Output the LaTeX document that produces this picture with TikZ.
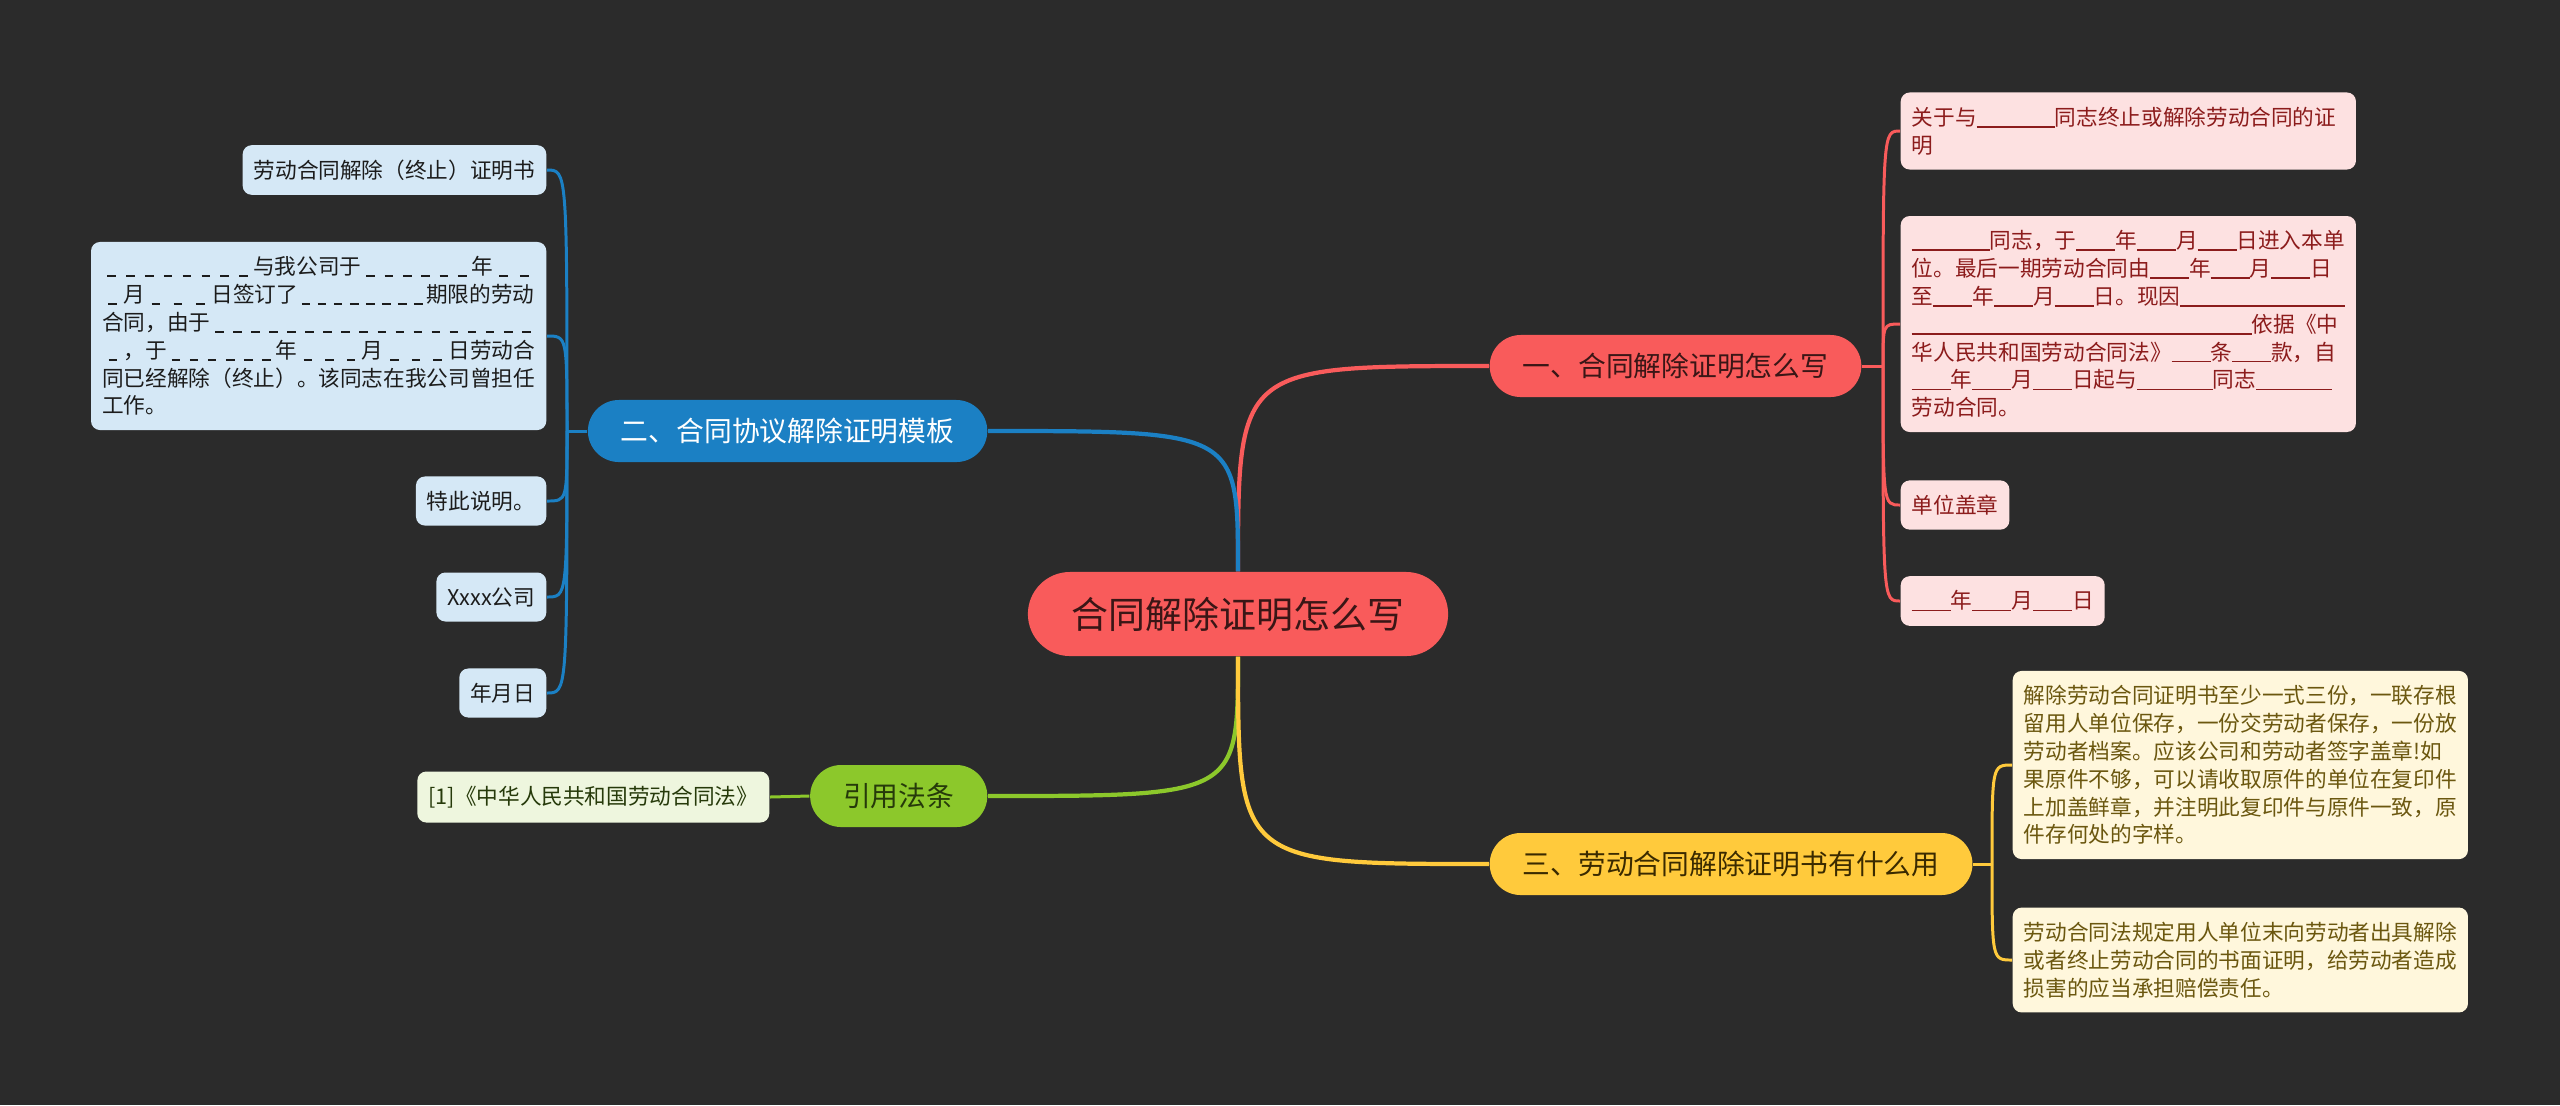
\documentclass[tikz,border=0pt]{standalone}
\usepackage{fontspec}
\setmainfont{Noto Sans CJK SC}
\usetikzlibrary{backgrounds}

\definecolor{canvas}{HTML}{2B2B2B}
\definecolor{rootred}{HTML}{F95B5B}
\definecolor{rootink}{HTML}{3A1616}
\definecolor{redleaf}{HTML}{FDE1E1}
\definecolor{redink}{HTML}{8C1C1C}
\definecolor{bluetop}{HTML}{1B80C4}
\definecolor{blueleaf}{HTML}{D5E8F6}
\definecolor{blueink}{HTML}{1C1C1C}
\definecolor{greentop}{HTML}{8CC82B}
\definecolor{greenink}{HTML}{263A0A}
\definecolor{greenleaf}{HTML}{EEF6DE}
\definecolor{yellowtop}{HTML}{FFCA3C}
\definecolor{yellowink}{HTML}{3A2A00}
\definecolor{yellowleaf}{HTML}{FFF7DC}
\definecolor{yleafink}{HTML}{6B570F}

\newcommand{\rootfont}{\fontsize{10.5pt}{12pt}\selectfont}
\newcommand{\topicfont}{\fontsize{7.9pt}{9.5pt}\selectfont}
\newcommand{\leaffont}{\fontsize{6.16pt}{7.91pt}\selectfont}
% blanks to fill in: solid line, or a run of short dashes
\newcommand{\gapsolid}[1]{\rule[-0.11em]{#1em}{0.08em}}
\newcommand{\gapdashed}[2]{\leavevmode\hbox to #1em{\xleaders\hbox to \dimexpr#1em/#2\relax{\hss\rule[-0.11em]{0.4em}{0.08em}\hss}\hfill}}

\begin{document}
\begin{tikzpicture}[x=0.01cm, y=-0.01cm,
  root/.style={fill=rootred, text=rootink, font=\rootfont,
    minimum width=4.2cm, minimum height=0.84cm, rounded corners=0.42cm},
  topic/.style={font=\topicfont, minimum height=0.62cm, inner xsep=0.33cm,
    rounded corners=0.31cm},
  leaf/.style={font=\leaffont, minimum height=0.49cm, inner xsep=0.11cm,
    inner ysep=0.145cm, rounded corners=0.09cm},
  para/.style={text width=4.33cm, align=left},
  bleaf/.style={leaf, fill=blueleaf, text=blueink},
  rleaf/.style={leaf, fill=redleaf, text=redink},
  yleaf/.style={leaf, fill=yellowleaf, text=yleafink},
  gleaf/.style={leaf, fill=greenleaf, text=greenink},
  trunk/.style={line width=1.2pt},
  twig/.style={line width=0.85pt},
]
\useasboundingbox (0,0) rectangle (2560,1105);

% Root and main topics
\node[root] (ctr) at (1238,614) {合同解除证明怎么写};
\node[topic, fill=rootred, text=rootink, anchor=west] (t1) at (1489,366) {一、合同解除证明怎么写};
\node[topic, fill=bluetop, text=white, anchor=east] (t2) at (988,431) {二、合同协议解除证明模板};
\node[topic, fill=yellowtop, text=yellowink, anchor=west] (t3) at (1489,864) {三、劳动合同解除证明书有什么用};
\node[topic, fill=greentop, text=greenink, anchor=east] (t4) at (988,796) {引用法条};

% === Topic 1 leaves ===
\node[rleaf, para, anchor=west] (r1) at (1900,131) {关于与\gapsolid{3.6}同志终止或解除劳动合同的证\\明};
\node[rleaf, para, anchor=west] (r2) at (1900,324) {\gapsolid{3.6}同志，于\gapsolid{1.8}年\gapsolid{1.8}月\gapsolid{1.8}日进入本单\\
位。最后一期劳动合同由\gapsolid{1.8}年\gapsolid{1.8}月\gapsolid{1.8}日\\
至\gapsolid{1.8}年\gapsolid{1.8}月\gapsolid{1.8}日。现因\gapsolid{7.6}\\
\gapsolid{15.7}依据《中\\
华人民共和国劳动合同法》\gapsolid{1.8}条\gapsolid{1.8}款，自\\
\gapsolid{1.8}年\gapsolid{1.8}月\gapsolid{1.8}日起与\gapsolid{3.5}同志\gapsolid{3.5}\\
劳动合同。};
\node[rleaf, anchor=west] (r3) at (1900,505) {单位盖章};
\node[rleaf, anchor=west] (r4) at (1900,601) {\gapsolid{1.8}年\gapsolid{1.8}月\gapsolid{1.8}日};

% === Topic 2 leaves ===
\node[bleaf, anchor=east] (b1) at (547,170) {劳动合同解除（终止）证明书};
\node[bleaf, para, anchor=east] (b2) at (547,336) {\gapdashed{6.97}{8}与我公司于\gapdashed{5.08}{6}年\gapdashed{1.92}{2}\\
\gapdashed{0.97}{1}月\gapdashed{3.08}{3}日签订了\gapdashed{5.92}{8}期限的劳动\\
合同，由于\gapdashed{15}{18}\\
\gapdashed{1}{1}，于\gapdashed{5}{6}年\gapdashed{3}{3}月\gapdashed{3}{3}日劳动合\\
同已经解除（终止）。该同志在我公司曾担任\\
工作。};
\node[bleaf, anchor=east] (b3) at (547,501) {特此说明。};
\node[bleaf, anchor=east] (b4) at (547,597) {Xxxx公司};
\node[bleaf, anchor=east] (b5) at (547,693) {年月日};

% === Topic 3 leaves ===
\node[yleaf, para, anchor=west] (y1) at (2012,765) {解除劳动合同证明书至少一式三份，一联存根\\
留用人单位保存，一份交劳动者保存，一份放\\
劳动者档案。应该公司和劳动者签字盖章!如\\
果原件不够，可以请收取原件的单位在复印件\\
上加盖鲜章，并注明此复印件与原件一致，原\\
件存何处的字样。};
\node[yleaf, para, anchor=west] (y2) at (2012,960) {劳动合同法规定用人单位末向劳动者出具解除\\
或者终止劳动合同的书面证明，给劳动者造成\\
损害的应当承担赔偿责任。};

% === Topic 4 leaf ===
\node[gleaf, anchor=east] (g1) at (770,797) {[1]《中华人民共和国劳动合同法》};

% junctions of the brackets
\coordinate (j1) at (1883,366);
\coordinate (j2) at (567,431);
\coordinate (j3) at (1992,864);

\begin{scope}[on background layer]
\fill[canvas] (0,0) rectangle (2560,1105);

% root to topics
\draw[trunk, rootred] (ctr.north) .. controls (ctr.north |- t1.west) .. (t1.west);
\draw[trunk, bluetop] (ctr.north) .. controls (ctr.north |- t2.east) .. (t2.east);
\draw[trunk, greentop] (ctr.south) .. controls (ctr.south |- t4.east) .. (t4.east);
\draw[trunk, yellowtop] (ctr.south) .. controls (ctr.south |- t3.west) .. (t3.west);

% topics to leaves
\draw[twig, rootred] (t1.east) -- (j1);
\foreach \n in {r1,r2,r3,r4}
  \draw[twig, rootred] (j1) .. controls (j1 |- \n.west) .. (\n.west);
\draw[twig, bluetop] (t2.west) -- (j2);
\foreach \n in {b1,b2,b3,b4,b5}
  \draw[twig, bluetop] (j2) .. controls (j2 |- \n.east) .. (\n.east);
\draw[twig, yellowtop] (t3.east) -- (j3);
\foreach \n in {y1,y2}
  \draw[twig, yellowtop] (j3) .. controls (j3 |- \n.west) .. (\n.west);
\draw[twig, greentop] (t4.west) -- (g1.east);
\end{scope}

\end{tikzpicture}
\end{document}
